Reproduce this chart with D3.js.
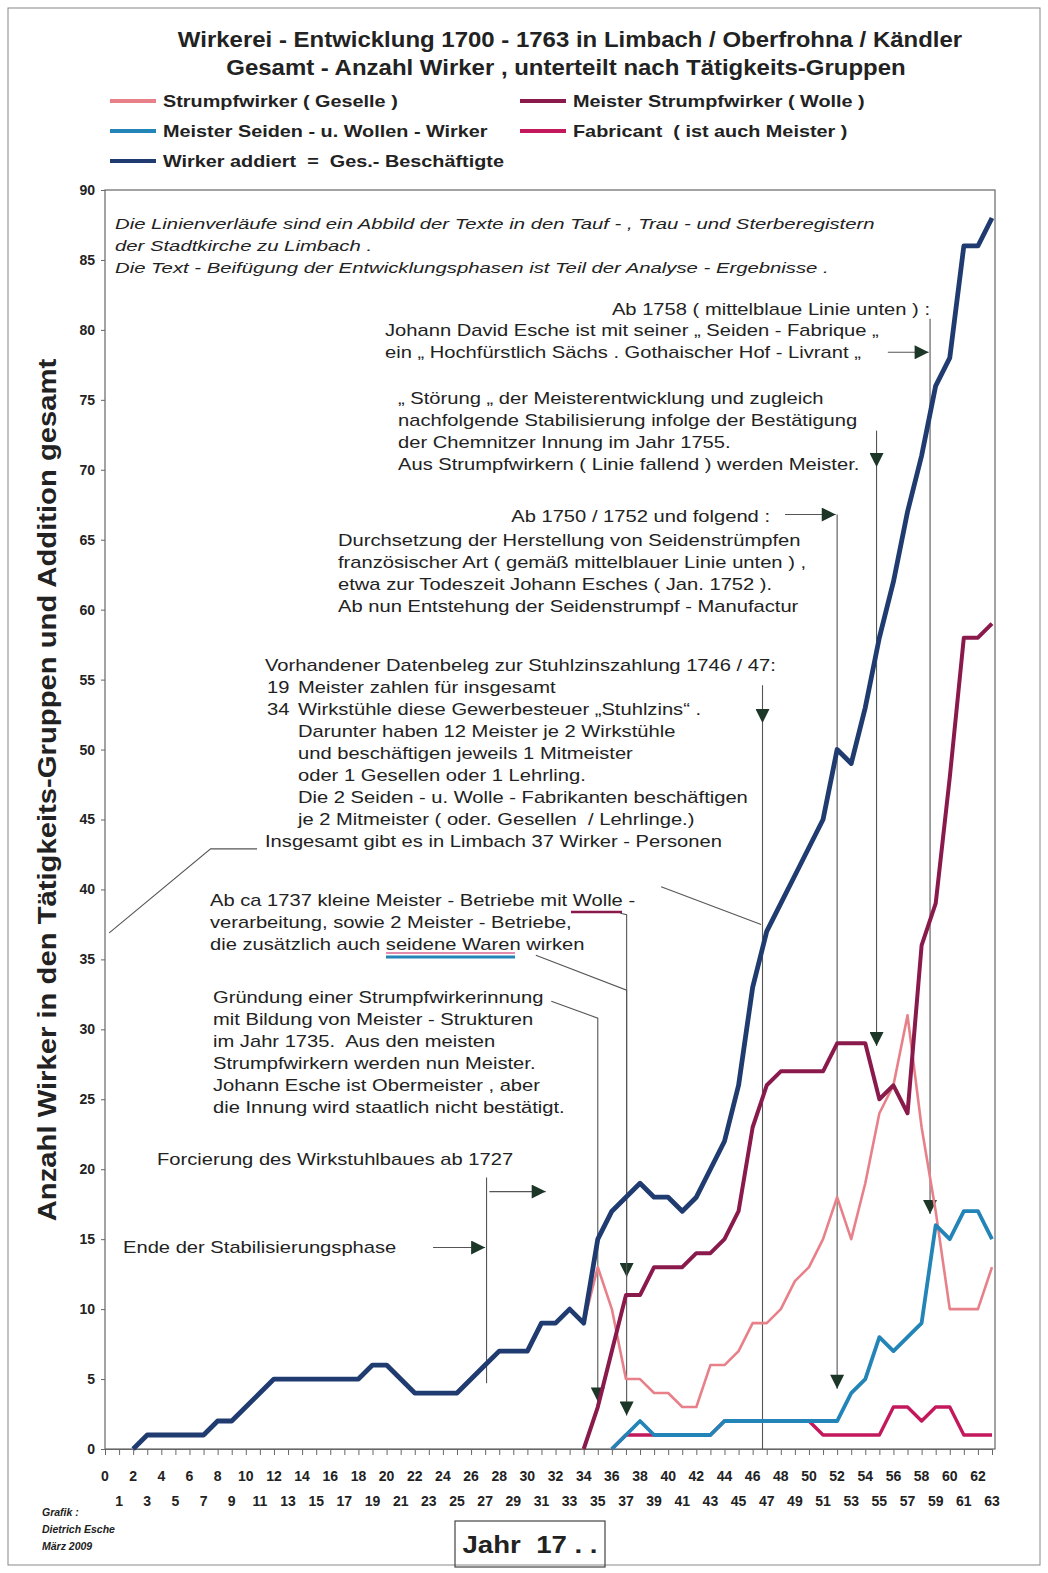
<!DOCTYPE html>
<html lang="de">
<head>
<meta charset="UTF-8">
<script src="https://cdn.jsdelivr.net/npm/d3@7/dist/d3.min.js"></script>
<title>Wirkerei</title>
<style>
  body { margin: 0; background: #fff; }
  text { font-family: "Liberation Sans", Arial, sans-serif; fill: #222; white-space: pre; }
</style>
</head>
<body>
<script>
    // Jahre 1700 .. 1763 (nur die letzten zwei Ziffern)
    const years = [0,1,2,3,4,5,6,7,8,9,10,11,12,13,14,15,16,17,18,19,20,21,22,23,24,25,26,27,28,29,30,31,
                   32,33,34,35,36,37,38,39,40,41,42,43,44,45,46,47,48,49,50,51,52,53,54,55,56,57,58,59,60,61,62,63]

    // Strumpfwirker ( Geselle )
    const geselle = [null,null,0,1,1,1,1,1,2,2,3,4,5,5,5,5,5,5,5,6,6,5,4,4,4,4,5,6,7,7,7,9,
                     9,10,9,13,10,5,5,4,4,3,3,6,6,7,9,9,10,12,13,15,18,15,19,24,26,31,23,17,10,10,10,13]
    // Meister Strumpfwirker ( Wolle )
    const meister = [null,null,null,null,null,null,null,null,null,null,null,null,null,null,null,null,
                     null,null,null,null,null,null,null,null,null,null,null,null,null,null,null,null,
                     null,null,0,3,7,11,11,13,13,13,14,14,15,17,23,26,27,27,27,27,29,29,29,25,26,24,36,39,48,58,58,59]
    // Meister Seiden - u. Wollen - Wirker
    const seiden = [null,null,null,null,null,null,null,null,null,null,null,null,null,null,null,null,
                    null,null,null,null,null,null,null,null,null,null,null,null,null,null,null,null,
                    null,null,null,null,0,1,2,1,1,1,1,1,2,2,2,2,2,2,2,2,2,4,5,8,7,8,9,16,15,17,17,15]
    // Fabricant ( ist auch Meister )
    const fabricant = [null,null,null,null,null,null,null,null,null,null,null,null,null,null,null,null,
                       null,null,null,null,null,null,null,null,null,null,null,null,null,null,null,null,
                       null,null,null,null,0,1,1,1,1,1,1,1,2,2,2,2,2,2,2,1,1,1,1,1,3,3,2,3,3,1,1,1]
    // Wirker addiert = Ges.- Beschaeftigte
    const gesamt = [null,null,0,1,1,1,1,1,2,2,3,4,5,5,5,5,5,5,5,6,6,5,4,4,4,4,5,6,7,7,7,9,
                    9,10,9,15,17,18,19,18,18,17,18,20,22,26,33,37,39,41,43,45,50,49,53,58,62,67,71,76,78,86,86,88]

    const yTicks = [0,5,10,15,20,25,30,35,40,45,50,55,60,65,70,75,80,85,90]

    const seriesNames = ["Strumpfwirker ( Geselle )", "Meister Strumpfwirker ( Wolle )",
                         "Meister Seiden - u. Wollen - Wirker", "Fabricant  ( ist auch Meister )",
                         "Wirker addiert  =  Ges.- Beschäftigte"]
    const seriesColors = ["#e8808a", "#8a1a4c", "#2384b8", "#c4185c", "#1f3b70"]

    const width = 1048, height = 1573
    const pLeft = 105, pRight = 992, pTop = 190, pBottom = 1449

    const svg = d3.select("body").append("svg").attr("width", width).attr("height", height)

    // aeusserer Rahmen
    svg.append("rect").attr("x", 8).attr("y", 8).attr("width", 1032).attr("height", 1557)
        .attr("fill", "none").attr("stroke", "#888").attr("stroke-width", 1)

    const xScale = d3.scaleLinear().domain([0, 63]).range([pLeft, pRight])
    const yScale = d3.scaleLinear().domain([0, 90]).range([pBottom, pTop])

    // Diagrammrahmen
    svg.append("rect").attr("x", pLeft).attr("y", pTop).attr("width", 995 - pLeft).attr("height", pBottom - pTop)
        .attr("fill", "none").attr("stroke", "#666").attr("stroke-width", 1.2)

    // Text mit horizontaler Streckung (das Original ist in die Breite gezogen)
    function block(x, y, lines, opts = {}) {
        const sx = opts.sx || 1.26
        const g = svg.append("g").attr("transform", `translate(${x},${y}) scale(${sx},1)`)
        const t = g.append("text").attr("font-size", opts.size || 16)
            .attr("font-style", opts.italic ? "italic" : null)
            .attr("font-weight", opts.bold ? "bold" : null)
            .attr("text-anchor", opts.anchor || "start")
        lines.forEach((l, i) => {
            const parts = typeof l === "string" ? [[0, l]] : (Array.isArray(l[0]) ? l : [l])
            parts.forEach(p => {
                t.append("tspan").attr("x", p[0] / sx).attr("y", i * (opts.lh || 22)).text(p[1])
            })
        })
        return g
    }

    // Titel
    block(570, 47, ["Wirkerei - Entwicklung 1700 - 1763 in Limbach / Oberfrohna / Kändler"],
          {size: 22, bold: true, sx: 1.09, anchor: "middle"})
    block(566, 75, ["Gesamt - Anzahl Wirker , unterteilt nach Tätigkeits-Gruppen"],
          {size: 22, bold: true, sx: 1.09, anchor: "middle"})

    // Legende
    const legendPos = [[110, 101], [520, 101], [110, 131], [520, 131], [110, 161]]
    const legend = svg.selectAll(".legend").data(seriesNames).enter().append("g").attr("class", "legend")
        .attr("transform", (d, i) => `translate(${legendPos[i][0]},${legendPos[i][1]})`)
    legend.append("line").attr("x1", 0).attr("x2", 46).attr("y1", 0).attr("y2", 0)
        .attr("stroke", (d, i) => seriesColors[i]).attr("stroke-width", 4)
    legend.append("text").attr("transform", "translate(53,6) scale(1.24,1)")
        .attr("font-size", 16).attr("font-weight", "bold").text(d => d)

    // y-Achse
    const yAxis = d3.axisLeft(yScale).tickValues(yTicks).tickSize(4).tickPadding(6)
    const gy = svg.append("g").attr("transform", `translate(${pLeft},0)`).call(yAxis)
    gy.select(".domain").remove()
    gy.selectAll("text").attr("font-size", 14).attr("font-weight", "bold").attr("fill", "#333")
        .style("font-family", "'Liberation Sans', Arial, sans-serif")
    gy.selectAll("line").attr("stroke", "#666")

    // x-Achse: gerade Jahre oben, ungerade unten
    const xAxis = d3.axisBottom(xScale).tickValues(years).tickSize(6).tickFormat("")
    const gx = svg.append("g").attr("transform", `translate(0,${pBottom})`).call(xAxis)
    gx.select(".domain").attr("stroke", "#666")
    gx.selectAll("line").attr("stroke", "#666")
    svg.selectAll(".xlab").data(years).enter().append("text").attr("class", "xlab")
        .attr("x", d => xScale(d)).attr("y", d => d % 2 === 0 ? 1481 : 1506)
        .attr("text-anchor", "middle").attr("font-size", 14).attr("font-weight", "bold")
        .text(d => d)

    // y-Achsentitel
    svg.append("text").attr("transform", "translate(56,790) rotate(-90) scale(1.17,1)").attr("text-anchor", "middle")
        .attr("font-size", 25).attr("font-weight", "bold").text("Anzahl Wirker in den Tätigkeits-Gruppen und Addition gesamt")

    // Jahr-Kasten
    svg.append("rect").attr("x", 455).attr("y", 1521).attr("width", 150).attr("height", 46)
        .attr("fill", "none").attr("stroke", "#444").attr("stroke-width", 1.2)
    block(530, 1553, ["Jahr  17 . ."], {size: 24, bold: true, sx: 1.15, anchor: "middle"})

    // Grafik-Vermerk
    const credit = ["Grafik :", "Dietrich Esche", "März 2009"]
    svg.selectAll(".credit").data(credit).enter().append("text").attr("class", "credit")
        .attr("x", 42).attr("y", (d, i) => 1516 + i * 17).attr("font-size", 10.5)
        .attr("font-style", "italic").attr("font-weight", "bold").attr("fill", "#444").text(d => d)

    // Pfeilspitzen
    const defs = svg.append("defs")
    defs.append("marker").attr("id", "arrow").attr("viewBox", "0 0 10 10").attr("refX", 10).attr("refY", 5)
        .attr("markerUnits", "userSpaceOnUse").attr("markerWidth", 16).attr("markerHeight", 14)
        .attr("orient", "auto")
        .append("path").attr("d", "M0,0 L10,5 L0,10 Z").attr("fill", "#1c3628")

    // Hilfslinien der Anmerkungen (in Jahr / Anzahl)
    const noteLines = [
        {pts: [[58.6, 80.8], [58.6, 16.8]], arrow: true},
        {pts: [[55.6, 78.4], [58.5, 78.4]], arrow: true},
        {pts: [[54.8, 72.8], [54.8, 70.2]], arrow: true},
        {pts: [[54.8, 70.2], [54.8, 28.8]], arrow: true},
        {pts: [[48.3, 66.8], [51.9, 66.8]], arrow: true},
        {pts: [[52.0, 66.8], [52.0, 4.3]], arrow: true},
        {pts: [[46.7, 54.6], [46.7, 51.9]], arrow: true},
        {pts: [[46.7, 51.9], [46.7, 0]], arrow: false},
        {pts: [[10.8, 42.9], [7.5, 42.9], [0.3, 36.9]], arrow: false},
        {pts: [[39.5, 40.2], [46.6, 37.5]], arrow: false},
        {pts: [[36.6, 38.3], [37.05, 38.2], [37.05, 12.3]], arrow: true},
        {pts: [[30.6, 35.3], [37.05, 32.8], [37.05, 2.4]], arrow: true},
        {pts: [[31.7, 32.0], [35.0, 30.8], [35.0, 3.4]], arrow: true},
        {pts: [[27.1, 19.4], [27.1, 4.7]], arrow: false},
        {pts: [[27.3, 18.4], [31.3, 18.4]], arrow: true},
        {pts: [[23.3, 14.4], [27.0, 14.4]], arrow: true}
    ]
    const noteLine = d3.line().x(d => xScale(d[0])).y(d => yScale(d[1]))
    svg.selectAll(".note-line").data(noteLines).enter().append("path").attr("class", "note-line")
        .attr("d", d => noteLine(d.pts)).attr("fill", "none").attr("stroke", "#555").attr("stroke-width", 1.1)
        .attr("marker-end", d => d.arrow ? "url(#arrow)" : null)

    // Datenlinien
    const series = [geselle, meister, fabricant, seiden, gesamt]
    const order = [0, 1, 3, 2, 4]
    const widths = [2.6, 4, 3.4, 3.8, 4.8]
    const line = d3.line().defined(d => d[1] !== null).x(d => xScale(d[0])).y(d => yScale(d[1]))
    svg.selectAll(".series").data(series).enter().append("path").attr("class", "series")
        .attr("d", s => line(years.map((y, i) => [y, s[i]])))
        .attr("fill", "none").attr("stroke", (d, i) => seriesColors[order[i]]).attr("stroke-width", (d, i) => widths[i])
        .attr("stroke-linejoin", "round")

    // Anmerkungstexte
    block(115, 229, ["Die Linienverläufe sind ein Abbild der Texte in den Tauf - , Trau - und Sterberegistern",
                     "der Stadtkirche zu Limbach .",
                     "Die Text - Beifügung der Entwicklungsphasen ist Teil der Analyse - Ergebnisse ."],
          {italic: true, size: 14.5, sx: 1.4, lh: 22})
    block(930, 315, ["Ab 1758 ( mittelblaue Linie unten ) :"], {anchor: "end"})
    block(385, 336, ["Johann David Esche ist mit seiner „ Seiden - Fabrique „",
                     "ein „ Hochfürstlich Sächs . Gothaischer Hof - Livrant „"])
    block(398, 404, ["„ Störung „ der Meisterentwicklung und zugleich",
                     "nachfolgende Stabilisierung infolge der Bestätigung",
                     "der Chemnitzer Innung im Jahr 1755.",
                     "Aus Strumpfwirkern ( Linie fallend ) werden Meister."])
    block(770, 522, ["Ab 1750 / 1752 und folgend :"], {anchor: "end"})
    block(338, 546, ["Durchsetzung der Herstellung von Seidenstrümpfen",
                     "französischer Art ( gemäß mittelblauer Linie unten ) ,",
                     "etwa zur Todeszeit Johann Esches ( Jan. 1752 ).",
                     "Ab nun Entstehung der Seidenstrumpf - Manufactur"])
    block(265, 671, ["Vorhandener Datenbeleg zur Stuhlzinszahlung 1746 / 47:",
                     [[2, "19"], [33, "Meister zahlen für insgesamt"]],
                     [[2, "34"], [33, "Wirkstühle diese Gewerbesteuer „Stuhlzins“ ."]],
                     [33, "Darunter haben 12 Meister je 2 Wirkstühle"],
                     [33, "und beschäftigen jeweils 1 Mitmeister"],
                     [33, "oder 1 Gesellen oder 1 Lehrling."],
                     [33, "Die 2 Seiden - u. Wolle - Fabrikanten beschäftigen"],
                     [33, "je 2 Mitmeister ( oder. Gesellen  / Lehrlinge.)"],
                     "Insgesamt gibt es in Limbach 37 Wirker - Personen"])
    block(210, 906, ["Ab ca 1737 kleine Meister - Betriebe mit Wolle -",
                     "verarbeitung, sowie 2 Meister - Betriebe,",
                     "die zusätzlich auch seidene Waren wirken"])
    // farbige Unterstreichungen
    svg.append("line").attr("x1", 571).attr("x2", 622).attr("y1", 912).attr("y2", 912)
        .attr("stroke", seriesColors[1]).attr("stroke-width", 2.5)
    svg.append("line").attr("x1", 386).attr("x2", 515).attr("y1", 953).attr("y2", 953)
        .attr("stroke", seriesColors[3]).attr("stroke-width", 1.2)
    svg.append("line").attr("x1", 386).attr("x2", 515).attr("y1", 957).attr("y2", 957)
        .attr("stroke", seriesColors[2]).attr("stroke-width", 3)
    block(213, 1003, ["Gründung einer Strumpfwirkerinnung",
                      "mit Bildung von Meister - Strukturen",
                      "im Jahr 1735.  Aus den meisten",
                      "Strumpfwirkern werden nun Meister.",
                      "Johann Esche ist Obermeister , aber",
                      "die Innung wird staatlich nicht bestätigt."])
    block(157, 1165, ["Forcierung des Wirkstuhlbaues ab 1727"])
    block(123, 1253, ["Ende der Stabilisierungsphase"])
</script>
</body>
</html>
